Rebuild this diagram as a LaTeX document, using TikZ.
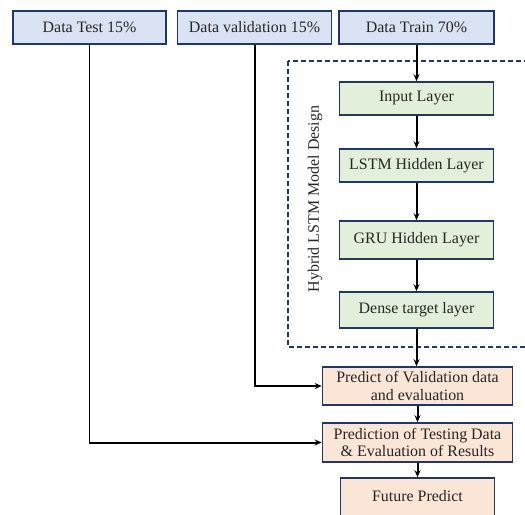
\documentclass[tikz,border=0pt]{standalone}
\usepackage{fontspec}
\setmainfont{Liberation Serif}
\usetikzlibrary{arrows.meta}
\definecolor{navy}{HTML}{1F3864}
\definecolor{bluefill}{HTML}{DAE3F3}
\definecolor{greenfill}{HTML}{E2EFDA}
\definecolor{orangefill}{HTML}{FBE5D6}
\tikzset{
  txt/.style={font=\fontsize{16}{17.5}\selectfont, text=black!85},
  box/.style={draw=navy, line width=1.6pt, rectangle, inner sep=0pt, align=center, txt},
  bluebox/.style={box, fill=bluefill},
  greenbox/.style={box, fill=greenfill},
  orangebox/.style={box, fill=orangefill},
  conn/.style={line width=2pt, -{Stealth[length=7pt,width=6pt]}},
}
\begin{document}
\begin{tikzpicture}[x=1bp,y=-1bp]
\useasboundingbox (0,0) rectangle (525,515);
% dashed frame
\draw[navy, line width=1.1pt, dash pattern=on 5pt off 3pt] (288,61) rectangle (545,347);
\node[rotate=90, txt] (lbl) at (315,199) {Hybrid LSTM Model Design};
% top boxes
\node[bluebox, minimum width=153bp, minimum height=33bp] (test) at (89.5,27.5) {Data Test 15\%};
\node[bluebox, minimum width=154bp, minimum height=33bp] (val) at (254.5,27.5) {Data validation 15\%};
\node[bluebox, minimum width=155bp, minimum height=33bp] (train) at (416.5,27.5) {Data Train 70\%};
% green boxes
\node[greenbox, minimum width=154bp, minimum height=33bp] (input) at (416.5,98.5) {Input Layer};
\node[greenbox, minimum width=154bp, minimum height=33bp] (lstm) at (416.5,165.5) {LSTM Hidden Layer};
\node[greenbox, minimum width=154bp, minimum height=38bp] (gru) at (416.5,240) {GRU Hidden Layer};
\node[greenbox, minimum width=154bp, minimum height=36bp] (dense) at (416.5,310) {Dense target layer};
% orange boxes
\node[orangebox, minimum width=190bp, minimum height=38bp] (pval) at (417.5,386) {Predict of Validation data\\and evaluation};
\node[orangebox, minimum width=190bp, minimum height=39bp] (ptest) at (417.5,442.5) {Prediction of Testing Data\\\& Evaluation of Results};
\node[orangebox, minimum width=154bp, minimum height=46bp] (future) at (417.5,501) {};
\node[txt] (futuretxt) at (417.5,496) {Future Predict};
% connectors
\draw[conn] (train.south) -- (input.north);
\draw[conn] (input) -- (lstm);
\draw[conn] (lstm) -- (gru);
\draw[conn] (gru) -- (dense);
\draw[conn] (dense.south) -- (dense.south |- pval.north);
\draw[conn] (pval.south) -- (pval.south |- ptest.north);
\draw[conn] (ptest) -- (future);
\draw[conn] (val.south) |- (pval.west);
\draw[conn] (test.south) |- (ptest.west);
\end{tikzpicture}
\end{document}
